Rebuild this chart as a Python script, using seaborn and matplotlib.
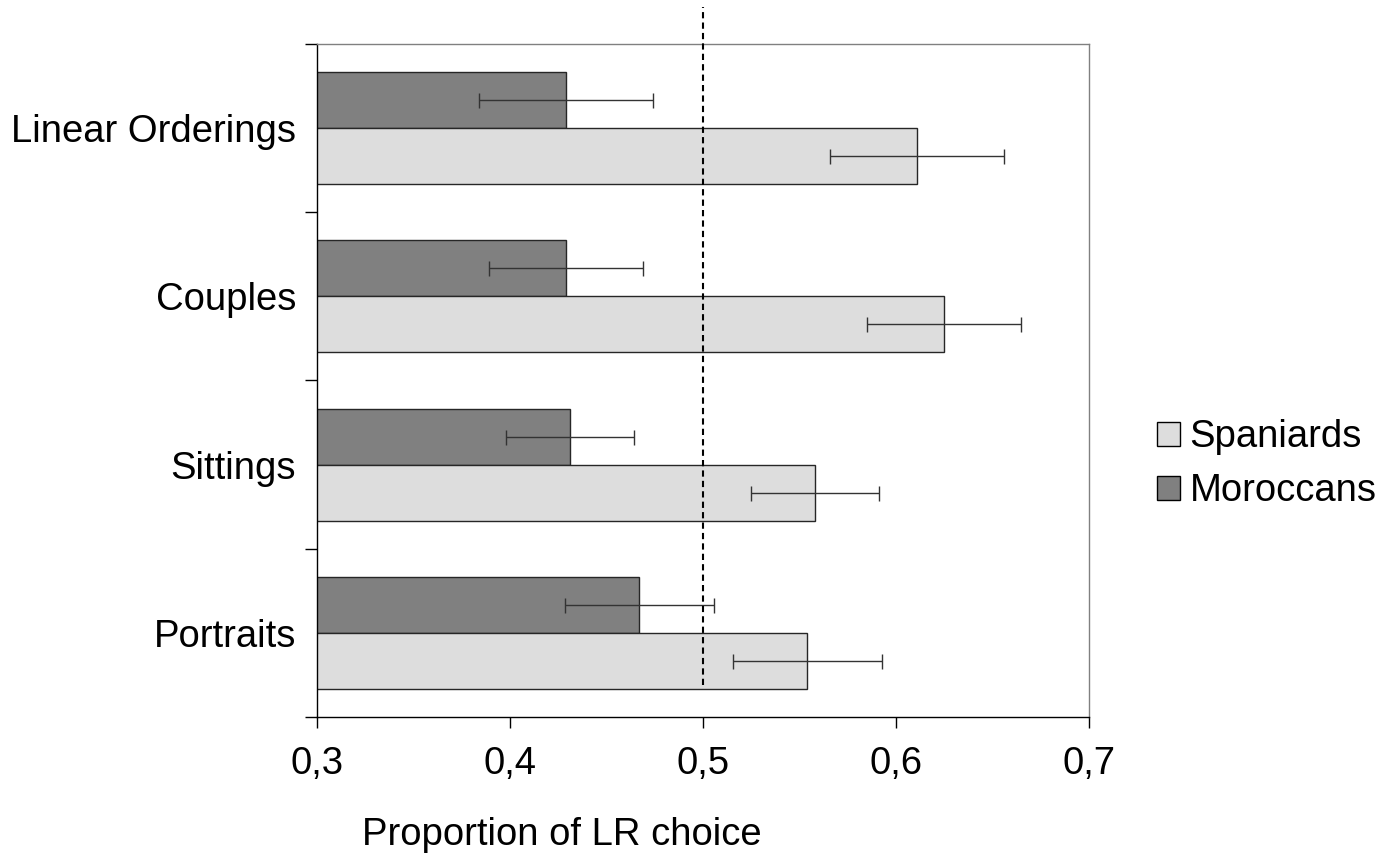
import numpy as np
import pandas as pd
import matplotlib
matplotlib.use("Agg")
import matplotlib.pyplot as plt
from matplotlib.patches import Patch
import seaborn as sns

# Data
tasks = ["Linear Orderings", "Couples", "Sittings", "Portraits"]
moroccans = [0.429, 0.429, 0.431, 0.467]
moroccans_err = [0.045, 0.040, 0.033, 0.0386]
spaniards = [0.611, 0.625, 0.558, 0.554]
spaniards_err = [0.045, 0.040, 0.033, 0.0386]
chance_level = 0.5
x_ticks = [0.3, 0.4, 0.5, 0.6, 0.7]

sns.set_theme(style="ticks")
plt.rcParams['font.family'] = ['Liberation Sans', 'DejaVu Sans']
plt.rcParams['font.size'] = 27.5
for key in ["text.color", "axes.labelcolor", "xtick.color", "ytick.color"]:
    plt.rcParams[key] = "black"

df = pd.DataFrame({
    "task": tasks * 2,
    "prop": moroccans + spaniards,
    "group": ["Moroccans"] * len(tasks) + ["Spaniards"] * len(tasks),
})
colors = {"Moroccans": "#808080", "Spaniards": "#dddddd"}

fig, ax = plt.subplots(figsize=(13.99, 8.63), dpi=100)
fig.subplots_adjust(left=0.2266, right=0.7784, bottom=0.1692, top=0.949)

sns.barplot(data=df, y="task", x="prop", hue="group",
            hue_order=["Moroccans", "Spaniards"], order=tasks,
            palette=colors, orient="h", width=0.667, saturation=1,
            edgecolor="#262626", linewidth=1, errorbar=None,
            legend=False, ax=ax)

# error bars on top of each bar
xs, ys, errs = [], [], []
for container, err in zip(ax.containers, [moroccans_err, spaniards_err]):
    for bar, e in zip(container, err):
        xs.append(bar.get_x() + bar.get_width())
        ys.append(bar.get_y() + bar.get_height() / 2)
        errs.append(e)
ax.errorbar(xs, ys, xerr=errs, fmt="none", ecolor="#333333",
            elinewidth=1, capsize=5.4, capthick=1, zorder=5)

ax.set_ylim(len(tasks) - 0.5, -0.5)

# chance line, sticks out above the plot
ax.axvline(chance_level, ymin=0.0475, ymax=1.055, clip_on=False,
           color="black", linestyle=(0, (3, 2)), linewidth=1.5, zorder=6)

ax.set_xlim(0.3, 0.7)
ax.set_xticks(x_ticks)
ax.set_xticklabels([f"{t:.1f}".replace(".", ",") for t in x_ticks])
ax.tick_params(axis="x", length=8, width=1, pad=13, labelsize=27.5,
               color="black", direction="out")

ax.set_yticks(np.arange(-0.5, len(tasks), 1), minor=True)
ax.tick_params(axis="y", which="major", length=0, pad=15, labelsize=27.5)
ax.tick_params(axis="y", which="minor", length=8.6, width=1,
               color="black", direction="out", left=True)

ax.set_ylabel("")
ax.set_xlabel("Proportion of LR choice", fontsize=27.5)
ax.xaxis.set_label_coords(0.317, -0.1486)

for side in ["left", "bottom"]:
    ax.spines[side].set_color("black")
    ax.spines[side].set_linewidth(1)
for side in ["top", "right"]:
    ax.spines[side].set_visible(True)
    ax.spines[side].set_color("#808080")
    ax.spines[side].set_linewidth(1)

handles = [Patch(facecolor=colors["Spaniards"], edgecolor="black", linewidth=1),
           Patch(facecolor=colors["Moroccans"], edgecolor="black", linewidth=1)]
fig.legend(handles, ["Spaniards", "Moroccans"], loc="center left",
           bbox_to_anchor=(1157 / 1399, 0.4623), frameon=False,
           borderpad=0, borderaxespad=0, handlelength=0.59, handleheight=0.59,
           handletextpad=0.26, labelspacing=0.47, fontsize=27.5)

fig.savefig("out.png", dpi=100)
